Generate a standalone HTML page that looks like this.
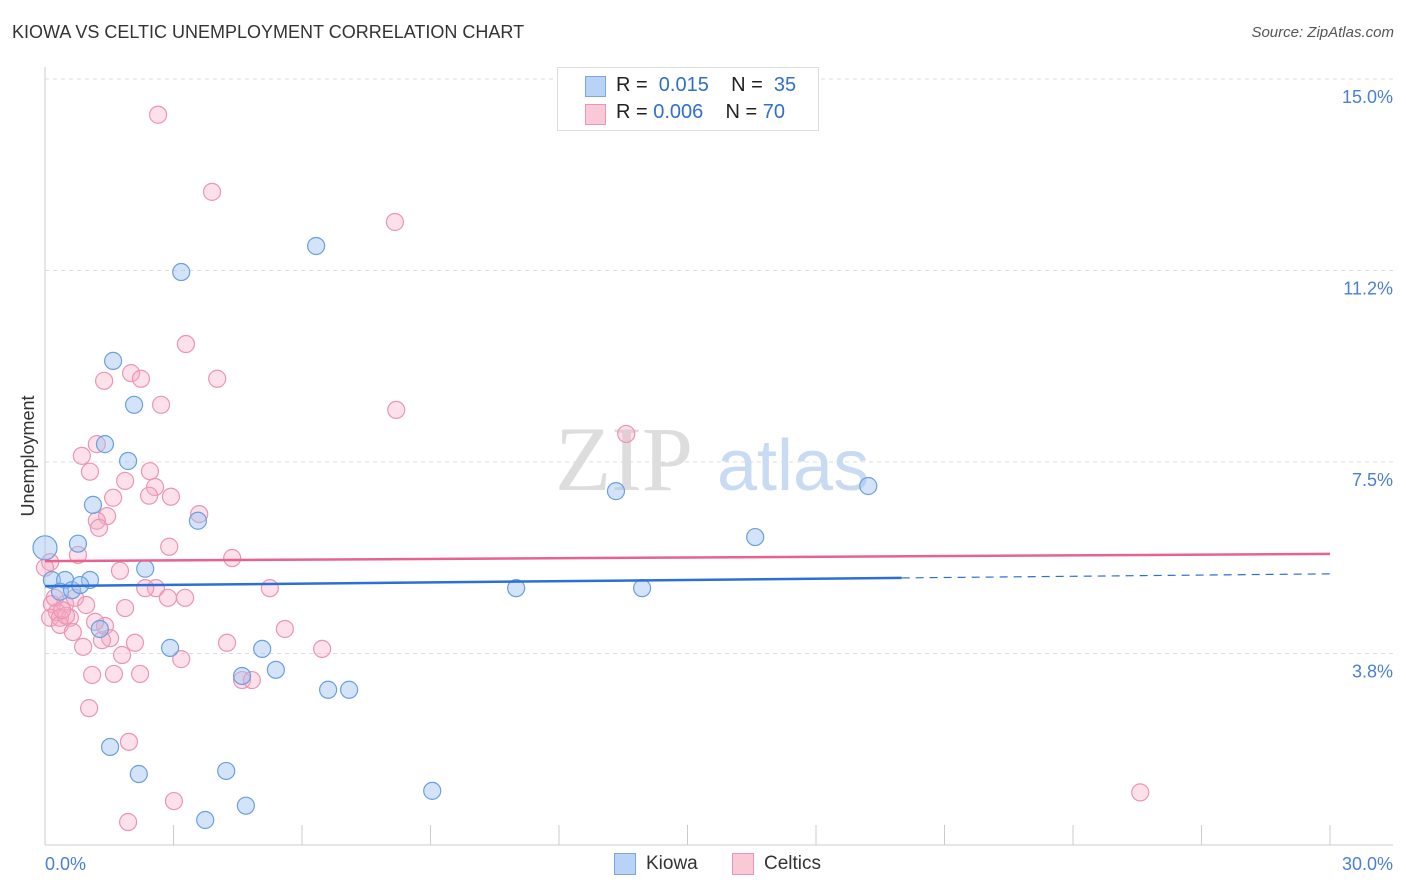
<!DOCTYPE html>
<html><head><meta charset="utf-8">
<style>
body{margin:0;background:#fff;font-family:"Liberation Sans",sans-serif;}
#wrap{position:relative;width:1406px;height:892px;overflow:hidden;}
.t{position:absolute;white-space:nowrap;}
</style></head>
<body>
<div id="wrap">
<div class="t" style="left:12px;top:22px;font-size:18px;color:#333;">KIOWA VS CELTIC UNEMPLOYMENT CORRELATION CHART</div>
<div class="t" style="right:12px;top:24px;font-size:15px;color:#555;font-style:italic;">Source: ZipAtlas.com</div>
<svg id="svg" width="1406" height="892" style="position:absolute;left:0;top:0"></svg>
</div>
<script>
const yTicks=[15.0,11.25,7.5,3.75];
const yTickLabels=["15.0%","11.2%","7.5%","3.8%"];
const xTickLabels=["0.0%","30.0%"];
const kiowaX=[0,0.16,0.47,1.05,0.35,0.77,0.63,0.82,1.12,1.59,1.40,1.94,2.08,2.34,3.18,3.57,2.92,1.28,1.52,2.19,3.74,4.23,4.69,4.60,5.07,5.39,6.33,6.61,7.10,9.04,11.00,13.33,13.94,16.58,19.22];
const kiowaY=[5.82,5.19,5.19,5.19,4.96,5.90,4.99,5.09,6.66,9.48,7.85,7.52,8.62,5.41,11.22,6.35,3.86,4.23,1.92,1.39,0.49,1.45,0.77,3.31,3.84,3.43,11.73,3.04,3.04,1.06,5.03,6.93,5.03,6.03,7.03];
const celticX=[2.64,3.90,8.17,3.29,4.02,1.38,2.01,2.24,2.71,8.20,13.57,1.21,0.86,1.05,2.45,1.87,2.57,1.59,2.43,2.94,1.45,1.21,1.26,3.60,2.90,0.77,4.37,0.12,1.75,2.59,2.34,5.25,3.27,2.87,0.16,0.47,0.70,0.96,1.87,0.28,0.12,0.35,0.58,0.35,0.65,1.40,1.52,2.10,4.25,0.89,1.80,5.60,6.47,3.18,1.10,1.61,2.22,4.60,4.83,1.03,1.96,3.01,1.94,25.57,0.23,0.49,0,1.33,0.40,1.17];
const celticY=[14.30,12.79,12.20,9.81,9.13,9.09,9.24,9.13,8.62,8.52,8.05,7.85,7.62,7.31,7.32,7.13,7.01,6.80,6.84,6.82,6.44,6.35,6.21,6.48,5.84,5.68,5.62,5.54,5.37,5.03,5.03,5.03,4.84,4.84,4.72,4.72,4.84,4.70,4.64,4.56,4.45,4.45,4.45,4.31,4.17,4.29,4.05,3.96,3.96,3.88,3.72,4.23,3.84,3.64,3.33,3.35,3.35,3.23,3.23,2.68,2.02,0.86,0.45,1.03,4.84,4.49,5.43,4.01,4.60,4.37];
const kiowaTrend=[5.07,5.31];
const celticTrend=[5.56,5.70];

const X0=45,X1=1330,Y15=79;
const sx=v=>X0+v/30*(X1-X0);
const sy=v=>Y15+(15-v)*(191.5/3.75);
const svg=document.getElementById('svg');
const NS='http://www.w3.org/2000/svg';
function mk(tag,attrs){const e=document.createElementNS(NS,tag);for(const k in attrs)e.setAttribute(k,attrs[k]);svg.appendChild(e);return e;}

// gridlines + labels
yTicks.forEach((v,i)=>{
 const g=mk('line',{x1:45,x2:1393,y1:sy(v),y2:sy(v),stroke:'#ddd','stroke-dasharray':'4,4'});
 
 
 const t=mk('text',{x:1393,y:sy(v)+24,'text-anchor':'end','font-size':18,fill:'#4a7fd6','font-family':'Liberation Sans, sans-serif'});
 t.textContent=yTickLabels[i];
 
 
});
// axes
let a=mk('line',{x1:45,x2:45,y1:67,y2:845,stroke:'#ccc'});


a=mk('line',{x1:45,x2:1393,y1:845,y2:845,stroke:'#ccc'});


for(let i=0;i<=10;i++){
 const l=mk('line',{x1:sx(i*3),x2:sx(i*3),y1:825,y2:845,stroke:'#ccc'});
 
 
}
[[0,'start',45],[1,'end',1393]].forEach(([i,anc,x])=>{
 const t=mk('text',{x:x,y:870,'text-anchor':anc,'font-size':18,fill:'#4a7fd6','font-family':'Liberation Sans, sans-serif'});
 t.textContent=xTickLabels[i];
 
 
});
// y title
let yt=mk('text',{x:0,y:0,transform:'translate(34,456) rotate(-90)','text-anchor':'middle','font-size':18,fill:'#333','font-family':'Liberation Sans, sans-serif'});
yt.textContent='Unemployment';


// watermark
let w=mk('text',{x:555,y:490,'font-size':92,fill:'#ddd','font-family':'Liberation Serif, serif'});
w.textContent='ZIP';


w=mk('text',{x:717,y:490,'font-size':72,fill:'#c9dbf3','font-family':'Liberation Sans, sans-serif'});
w.textContent='atlas';



// points
celticX.forEach((x,i)=>{
 const c=mk('circle',{cx:sx(x),cy:sy(celticY[i]),r:8.5,fill:'rgba(246,170,196,0.35)',stroke:'#ec95b3','stroke-width':1.2});
 
 
});
kiowaX.forEach((x,i)=>{
 const c=mk('circle',{cx:sx(x),cy:sy(kiowaY[i]),r:i===0?12:8.5,fill:'rgba(160,196,240,0.45)',stroke:'#6a9fe0','stroke-width':1.2});
 
 
});
// trends
const kAt=v=>kiowaTrend[0]+(kiowaTrend[1]-kiowaTrend[0])*v/30;
let tl=mk('line',{x1:sx(0),y1:sy(kAt(0)),x2:sx(20),y2:sy(kAt(20)),stroke:'#2c6fd6','stroke-width':2.5});


tl=mk('line',{x1:sx(20),y1:sy(kAt(20)),x2:sx(30),y2:sy(kAt(30)),stroke:'#2c6fd6','stroke-width':1.2,'stroke-dasharray':'8,6'});


tl=mk('line',{x1:sx(0),y1:sy(celticTrend[0]),x2:sx(30),y2:sy(celticTrend[1]),stroke:'#e8628f','stroke-width':2.5});


</script>
<div class="t" style="left:557px;top:67px;width:260px;height:62px;border:1px solid #ddd;background:#fff;font-size:20px;">
 <div style="position:absolute;left:27px;top:8px;width:19px;height:19px;background:#b9d3f6;border:1px solid #7aa6e6;"></div>
 <div style="position:absolute;left:58px;top:6px;color:#222;">R = &nbsp;<span style="color:#2f6fd0">0.015</span>&nbsp;&nbsp;&nbsp; N = &nbsp;<span style="color:#2f6fd0">35</span></div>
 <div style="position:absolute;left:27px;top:36px;width:19px;height:19px;background:#f9c9d8;border:1px solid #ec95b3;"></div>
 <div style="position:absolute;left:58px;top:33px;color:#222;">R = <span style="color:#2f6fd0">0.006</span>&nbsp;&nbsp;&nbsp; N = <span style="color:#2f6fd0">70</span></div>
</div>
<div class="t" style="left:614px;top:853px;width:20px;height:20px;background:#b9d3f6;border:1px solid #7aa6e6;"></div>
<div class="t" style="left:646px;top:853px;font-size:19px;color:#333;">Kiowa</div>
<div class="t" style="left:732px;top:853px;width:20px;height:20px;background:#f9c9d8;border:1px solid #ec95b3;"></div>
<div class="t" style="left:764px;top:853px;font-size:19px;color:#333;">Celtics</div>
</body></html>
